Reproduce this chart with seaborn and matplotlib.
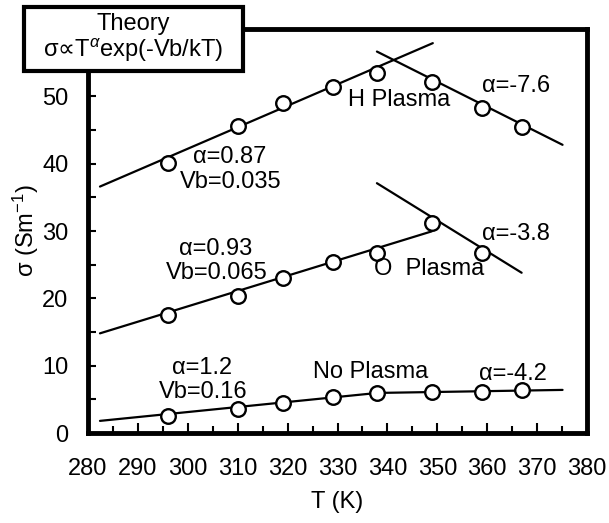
import matplotlib
matplotlib.use("Agg")
import matplotlib.pyplot as plt
from matplotlib.patches import Rectangle
from matplotlib.ticker import MultipleLocator
import seaborn as sns
import pandas as pd

sns.set_theme(style="ticks")
plt.rcParams['font.family'] = ['Liberation Sans', 'DejaVu Sans']
plt.rcParams['mathtext.fontset'] = 'custom'
plt.rcParams['mathtext.rm'] = 'Liberation Sans'
plt.rcParams['mathtext.it'] = 'Liberation Sans:italic'
plt.rcParams['mathtext.sf'] = 'DejaVu Sans'
for k in ['text.color', 'axes.labelcolor', 'xtick.color', 'ytick.color']:
    plt.rcParams[k] = 'black'

# measured points
temp = [296, 310, 319, 329, 338, 349, 359, 367]
sigma_h = [40.1, 45.6, 49.0, 51.4, 53.4, 52.1, 48.2, 45.5]
sigma_o = [17.5, 20.35, 23.0, 25.4, 26.7, 31.2, 26.7]
sigma_none = [2.5, 3.6, 4.4, 5.3, 5.9, 6.15, 6.15, 6.4]

# theory fit lines
fit_h_up_t = [282.4, 349.1]
fit_h_up_s = [36.6, 57.9]
fit_h_down_t = [337.9, 375.1]
fit_h_down_s = [56.65, 42.8]
fit_o_up_t = [282.4, 348.9]
fit_o_up_s = [14.8, 29.95]
fit_o_down_t = [337.9, 366.9]
fit_o_down_s = [37.1, 23.8]
fit_none_t = [282.4, 338.0, 375.1]
fit_none_s = [1.8, 5.95, 6.4]

pts = pd.concat([
    pd.DataFrame({"T": temp, "sigma": sigma_h, "run": "H Plasma"}),
    pd.DataFrame({"T": temp[:len(sigma_o)], "sigma": sigma_o, "run": "O Plasma"}),
    pd.DataFrame({"T": temp, "sigma": sigma_none, "run": "No Plasma"}),
])

fits = [(fit_h_up_t, fit_h_up_s), (fit_h_down_t, fit_h_down_s),
        (fit_o_up_t, fit_o_up_s), (fit_o_down_t, fit_o_down_s),
        (fit_none_t, fit_none_s)]

fig = plt.figure(figsize=(6.09, 5.23), dpi=100)
ax = fig.add_axes([88/609, 1-433/523, (587-88)/609, (433-29)/523])

for ft, fs in fits:
    sns.lineplot(x=ft, y=fs, ax=ax, color="black", lw=1.6, zorder=2)

sns.scatterplot(data=pts, x="T", y="sigma", ax=ax, marker="o", s=110,
                color="white", edgecolor="black", linewidth=1.7, zorder=3,
                legend=False)

fs = 17
notes = [
    (308.4, 41.0, "α=0.87", "center"), (308.6, 37.3, "Vb=0.035", "center"),
    (342.4, 49.4, "H Plasma", "center"), (365.8, 51.5, "α=-7.6", "center"),
    (305.6, 27.3, "α=0.93", "center"), (305.8, 23.7, "Vb=0.065", "center"),
    (365.8, 29.5, "α=-3.8", "center"), (337.3, 24.3, "O  Plasma", "left"),
    (302.8, 9.7, "α=1.2", "center"), (303.0, 6.1, "Vb=0.16", "center"),
    (336.6, 9.0, "No Plasma", "center"), (365.2, 8.8, "α=-4.2", "center"),
]
for x, y, t, h in notes:
    ax.text(x, y, t, fontsize=fs, ha=h, va="center", zorder=4)

ax.set_xlim(280, 380)
ax.set_ylim(0, 60)
ax.xaxis.set_major_locator(MultipleLocator(10))
ax.xaxis.set_minor_locator(MultipleLocator(5))
ax.set_yticks([0, 10, 20, 30, 40, 50])
ax.yaxis.set_minor_locator(MultipleLocator(5))
ax.tick_params(which="both", direction="in", top=False, right=False,
               labelsize=fs, width=1.5, color="black")
ax.tick_params(axis="x", which="major", length=7, pad=18)
ax.tick_params(axis="x", which="minor", length=5)
ax.tick_params(axis="y", which="both", length=6, pad=14)
for sp in ax.spines.values():
    sp.set_linewidth(3.5)
    sp.set_color("black")

ax.set_xlabel("T (K)", fontsize=fs, labelpad=8)
ax.set_ylabel("σ (Sm$^{-1}$)", fontsize=fs, labelpad=1)

# theory box
fig.add_artist(Rectangle((24/609, 1-71/523), 219/609, 64/523,
                         transform=fig.transFigure, facecolor="white",
                         edgecolor="black", linewidth=3, zorder=5))
fig.text(133.5/609, 1-24/523, "Theory", fontsize=fs, ha="center",
         va="center", zorder=6)
fig.text(133.5/609, 1-50/523, "σ$\\mathsf{∝}$T$^{α}$exp(-Vb/kT)",
         fontsize=fs, ha="center", va="center", zorder=6)

fig.savefig("out.png", dpi=100)
